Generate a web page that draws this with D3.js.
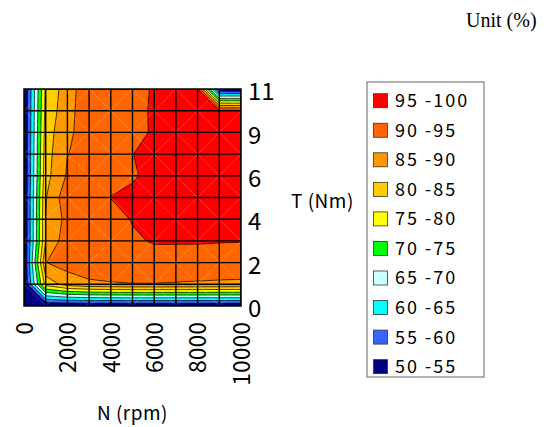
<!DOCTYPE html>
<html>
<head>
<meta charset="utf-8">
<script src="https://cdn.jsdelivr.net/npm/d3@7"></script>
<style>
  body { margin: 0; background: #fff; }
  svg { display: block; }
</style>
</head>
<body>
<svg width="554" height="427"></svg>
<script>
// speed categories (columns) and torque categories (rows, bottom to top)
var speedCats = ["0", "1000", "2000", "3000", "4000", "5000", "6000", "7000", "8000", "9000", "10000"];
var speedLabels = ["0", "2000", "4000", "6000", "8000", "10000"];
var torqueCats = ["0", "1", "2", "3", "4", "5", "6", "7.5", "9", "10", "11"];
var torqueLabels = ["0", "2", "4", "6", "9", "11"];

// efficiency bands
var bandMin = [50, 55, 60, 65, 70, 75, 80, 85, 90, 95];
var bandNames = ["50 -55", "55 -60", "60 -65", "65 -70", "70 -75", "75 -80", "80 -85", "85 -90", "90 -95", "95 -100"];
var bandColors = ["#000080", "#3366ff", "#00ffff", "#ccffff", "#00ff00", "#ffff00", "#ffcc00", "#ff9900", "#ff6600", "#ff0000"];

// efficiency (%), one row per torque category from T=0 up to T=11, one value per speed
var eff = [
  [50, 50,   50,   50,   50,   50,    50,    50,    50,   50,   50],
  [50, 82,   87,   89,   89.5, 89.85, 89.85, 89.75, 89.6, 89.5, 89.4],
  [50, 89.9, 92.2, 93.3, 93.7, 93,    93,    92.3,  92.3, 92,   92],
  [50, 85.1, 93.2, 93.5, 93,   94.3,  95.4,  95.5,  95.5, 95.3, 95.2],
  [50, 85.1, 91.6, 92.5, 93,   95.3,  96.5,  96.8,  96.8, 96.5, 96.3],
  [50, 84.7, 93.3, 93,   95.1, 96,    96.5,  97,    97,   97,   97],
  [50, 83.3, 90.6, 92.5, 93.5, 94.5,  96.3,  96.8,  97,   97,   97],
  [50, 82.9, 89.9, 91.3, 93.5, 94.95, 96,    96.5,  96.8, 96.8, 96.8],
  [50, 82.2, 89.5, 91.2, 93.5, 94.2,  95.3,  96.2,  96.5, 96.5, 96.5],
  [50, 81.5, 88.2, 93.3, 94,   94.3,  95.3,  96,    96,   96,   96],
  [50, 81,   87.6, 93.5, 94,   94.3,  95.2,  95.6,  95.5, 50,   50]
];

function main() {
  var svg = d3.select("svg");
  var font = "'Noto Sans CJK JP', 'Noto Sans', sans-serif";

  var pLeft = 24, pRight = 241, pTop = 89, pBottom = 306;
  var nx = speedCats.length, ny = torqueCats.length;

  var xScale = d3.scalePoint().domain(speedCats).range([pLeft, pRight]);
  var yScale = d3.scalePoint().domain(torqueCats).range([pBottom, pTop]);

  // index -> pixel, used for the contour geometry
  var xi = d3.scaleLinear().domain([0, nx - 1]).range([pLeft, pRight]);
  var yi = d3.scaleLinear().domain([0, ny - 1]).range([pTop, pBottom]);

  svg.append("defs").append("clipPath").attr("id", "plotclip")
    .append("rect")
    .attr("x", pLeft).attr("y", pTop)
    .attr("width", pRight - pLeft).attr("height", pBottom - pTop);

  // flatten, top row first
  var grid = [];
  for (var j = 0; j < ny; j++) {
    for (var i = 0; i < nx; i++) {
      grid.push(eff[ny - 1 - j][i]);
    }
  }

  var contours = d3.contours().size([nx, ny]).thresholds(bandMin)(grid);

  var proj = d3.geoTransform({
    point: function(x, y) { this.stream.point(xi(x - 0.5), yi(y - 0.5)); }
  });
  var path = d3.geoPath(proj);

  var plot = svg.append("g").attr("clip-path", "url(#plotclip)");

  plot.selectAll("path.band")
    .data(contours)
    .enter().append("path")
    .attr("class", "band")
    .attr("d", path)
    .attr("fill", function(d) { return bandColors[bandMin.indexOf(d.value)]; })
    .attr("stroke", "#000")
    .attr("stroke-width", 0.7)
    .attr("stroke-linejoin", "round");

  // faint triangulation diagonals
  var cells = [];
  for (var r = 0; r < ny - 1; r++) {
    for (var c = 0; c < nx - 1; c++) cells.push({c: c, r: r});
  }
  plot.selectAll("line.diag")
    .data(cells)
    .enter().append("line")
    .attr("class", "diag")
    .attr("x1", function(d) { return xi(d.c); })
    .attr("x2", function(d) { return xi(d.c + 1); })
    .attr("y1", function(d) { return (d.c + d.r) % 2 ? yi(d.r) : yi(d.r + 1); })
    .attr("y2", function(d) { return (d.c + d.r) % 2 ? yi(d.r + 1) : yi(d.r); })
    .attr("stroke", "#fff")
    .attr("stroke-opacity", 0.3)
    .attr("stroke-width", 0.7);

  // grid lines
  plot.selectAll("line.vgrid")
    .data(speedCats)
    .enter().append("line")
    .attr("class", "vgrid")
    .attr("x1", function(d) { return xScale(d); })
    .attr("x2", function(d) { return xScale(d); })
    .attr("y1", pTop).attr("y2", pBottom)
    .attr("stroke", "#000").attr("stroke-width", 1.4);

  plot.selectAll("line.hgrid")
    .data(torqueCats)
    .enter().append("line")
    .attr("class", "hgrid")
    .attr("y1", function(d) { return yScale(d); })
    .attr("y2", function(d) { return yScale(d); })
    .attr("x1", pLeft).attr("x2", pRight)
    .attr("stroke", "#000").attr("stroke-width", 1.4);

  svg.append("rect")
    .attr("x", pLeft).attr("y", pTop)
    .attr("width", pRight - pLeft).attr("height", pBottom - pTop)
    .attr("fill", "none").attr("stroke", "#000").attr("stroke-width", 1.5);

  // x axis, labels rotated
  var xAxis = svg.append("g")
    .attr("transform", "translate(0," + (pBottom + 16) + ")")
    .call(d3.axisBottom(xScale).tickValues(speedLabels).tickSize(0));
  xAxis.select(".domain").remove();
  xAxis.selectAll("text")
    .attr("font-family", font)
    .attr("font-size", "23px")
    .attr("fill", "#000")
    .attr("x", 0).attr("y", 0)
    .attr("dy", "0.36em")
    .style("text-anchor", "end")
    .attr("transform", "rotate(-90)");

  // y axis on the right
  var yAxis = svg.append("g")
    .attr("transform", "translate(" + (pRight + 4) + ",3)")
    .call(d3.axisRight(yScale).tickValues(torqueLabels).tickSize(0));
  yAxis.select(".domain").remove();
  yAxis.selectAll("text")
    .attr("font-family", font)
    .attr("font-size", "24px")
    .attr("fill", "#000");

  svg.append("text")
    .attr("x", (pLeft + pRight) / 2)
    .attr("y", 420)
    .attr("text-anchor", "middle")
    .attr("font-family", font)
    .attr("font-size", "19px")
    .attr("letter-spacing", "0.5px")
    .text("N (rpm)");

  svg.append("text")
    .attr("x", 291)
    .attr("y", 208)
    .attr("font-family", font)
    .attr("font-size", "19px")
    .attr("letter-spacing", "0.5px")
    .text("T (Nm)");

  svg.append("text")
    .attr("x", 466)
    .attr("y", 27)
    .attr("font-family", "'Liberation Serif', 'Times New Roman', serif")
    .attr("font-size", "20px")
    .text("Unit (%)");

  // legend
  var legend = svg.append("g");
  legend.append("rect")
    .attr("x", 367).attr("y", 82)
    .attr("width", 117).attr("height", 295)
    .attr("fill", "#fff")
    .attr("stroke", "#7f7f7f").attr("stroke-width", 1.2);

  var order = d3.range(bandMin.length).reverse();
  var items = legend.selectAll("g.item")
    .data(order)
    .enter().append("g")
    .attr("class", "item")
    .attr("transform", function(d, k) { return "translate(373," + (100.7 + k * 29.55) + ")"; });

  items.append("rect")
    .attr("x", 0.5).attr("y", -7)
    .attr("width", 14).attr("height", 14)
    .attr("fill", function(d) { return bandColors[d]; })
    .attr("stroke", "#333").attr("stroke-width", 0.8);

  items.append("text")
    .attr("x", 22).attr("y", 0)
    .attr("dy", "0.36em")
    .attr("font-family", font)
    .attr("font-size", "18px")
    .attr("letter-spacing", "2px")
    .text(function(d) { return bandNames[d]; });
}

main();
</script>
</body>
</html>
